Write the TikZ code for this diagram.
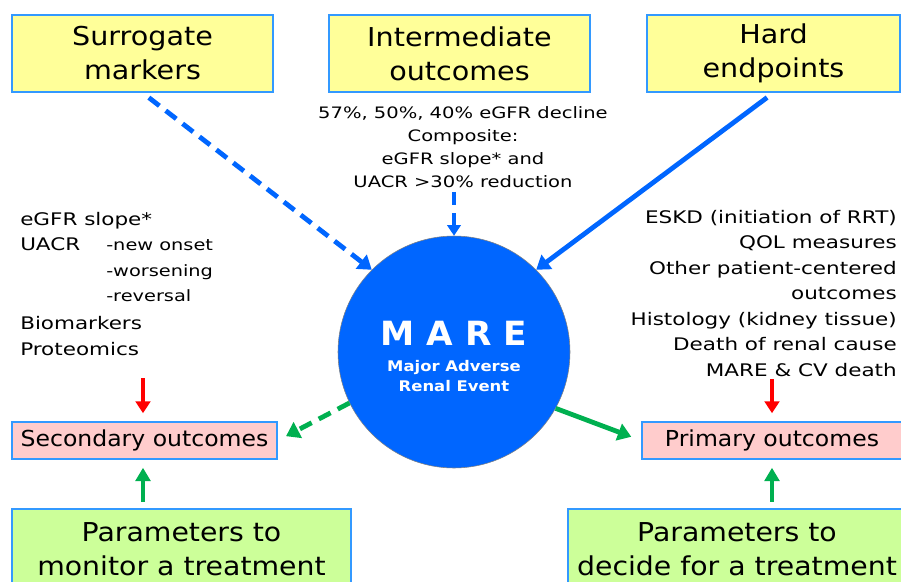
\documentclass[tikz,border=0pt]{standalone}
\usepackage{fontspec}
\setmainfont{DejaVu Sans}
\usepackage{xcolor}
\usetikzlibrary{positioning, arrows.meta, calc}
\definecolor{edgeblue}{HTML}{3399FF}
\definecolor{mareblue}{HTML}{0066FF}
\definecolor{paleyellow}{HTML}{FFFF99}
\definecolor{palepink}{HTML}{FFCCCC}
\definecolor{palegreen}{HTML}{CCFF99}
\definecolor{arrowgreen}{HTML}{00B050}
\newcommand{\wide}[1]{\addfontfeature{FakeStretch=#1}}

\begin{document}
\begin{tikzpicture}[x=0.75pt, y=-0.75pt,
    topbox/.style={rectangle, draw=edgeblue, line width=1.1pt, fill=paleyellow, minimum height=57.75pt, inner sep=0pt, align=center, font=\wide{1.10}\fontsize{19.5}{25.5}\selectfont},
    outbox/.style={rectangle, draw=edgeblue, line width=1.1pt, fill=palepink, minimum height=27.75pt, inner sep=0pt, align=center, font=\wide{1.07}\fontsize{16.5}{20}\selectfont},
    parbox/.style={rectangle, draw=edgeblue, line width=1.1pt, fill=palegreen, minimum height=60pt, inner sep=0pt, align=center, font=\wide{1.09}\fontsize{19.5}{25.5}\selectfont},
    note/.style={inner sep=0pt, font=\wide{1.24}\fontsize{13}{19.1}\selectfont},
    arrow/.style={-{Triangle[length=10pt, width=13pt]}, line width=3.6pt},
    dashedline/.style={dash pattern=on 10pt off 6pt}
]

\useasboundingbox (0,0) rectangle (901,582);
\clip (0,0) rectangle (901,582);

\node[topbox, minimum width=195.75pt] (surr) at (142.5, 53.5) {Surrogate\\markers};
\node[topbox, minimum width=195.75pt] (inter) at (459.5, 53.5) {Intermediate\\outcomes};
\node[topbox, minimum width=189.75pt] (hard) at (773.5, 53.5) {Hard\\endpoints};

\node[note, align=center, font=\wide{1.24}\fontsize{11.8}{17.2}\selectfont] (intertext) at (463, 147) {57\%, 50\%, 40\% eGFR decline\\Composite:\\eGFR slope* and\\UACR >30\% reduction};

\node[circle, draw=gray, thin, fill=mareblue, minimum size=174pt, inner sep=0pt] (mare) at (454, 352) {};
\node[text=white, font=\bfseries\wide{1.03}\fontsize{25}{30}\selectfont] (maretitle) at (454, 333) {M A R E};
\node[text=white, align=center, font=\bfseries\wide{1.12}\fontsize{11}{14.5}\selectfont] (maresub) at (454, 376) {Major Adverse\\Renal Event};

\node[note, anchor=north west, align=left] (lefttext) at (20, 207) {%
\begin{tabular}{@{}p{64.5pt}@{}l@{}}
\multicolumn{2}{@{}l@{}}{eGFR slope*}\\
UACR & \fontsize{11.7}{19}\selectfont -new onset\\
 & \fontsize{11.7}{19}\selectfont -worsening\\
 & \fontsize{11.7}{19}\selectfont -reversal\\[2pt]
\multicolumn{2}{@{}l@{}}{Biomarkers}\\
\multicolumn{2}{@{}l@{}}{Proteomics}
\end{tabular}};

\node[note, anchor=north east, align=right] (righttext) at (897, 210) {ESKD (initiation of RRT)\\QOL measures\\Other patient-centered\\outcomes\\Histology (kidney tissue)\\Death of renal cause\\MARE \& CV death};

\node[outbox, minimum width=198.75pt] (second) at (144.5, 440.5) {Secondary outcomes};
\node[outbox, minimum width=195pt] (primary) at (772, 440.5) {Primary outcomes};

\node[parbox, minimum width=254.25pt] (monitor) at (181.5, 549) {Parameters to\\monitor a treatment};
\node[parbox, minimum width=253.5pt] (decide) at (737, 549) {Parameters to\\decide for a treatment};

\coordinate (redL) at (143, 378);
\coordinate (redR) at (772, 379);

\draw[arrow, dashedline, mareblue, shorten <=6pt] (surr.south) -- (mare.135);
\draw[arrow, mareblue, shorten <=6pt] (hard.south) -- (mare.45);
\draw[arrow, dashedline, mareblue, line width=3pt, -{Triangle[length=8pt, width=10pt]}, shorten <=3pt] (intertext.south -| mare.north) -- (mare.north);

\draw[arrow, dashedline, arrowgreen, shorten >=7pt] (mare.206) -- (second.east);
\draw[arrow, arrowgreen, shorten >=8pt] (mare.331) -- (primary.west);

\draw[arrow, red, line width=3pt, -{Triangle[length=9pt, width=11pt]}, shorten >=6pt] (redL) -- (redL |- second.north);
\draw[arrow, red, line width=3pt, -{Triangle[length=9pt, width=11pt]}, shorten >=6pt] (redR) -- (redR |- primary.north);

\draw[arrow, arrowgreen, line width=3.3pt, -{Triangle[length=10pt, width=11pt]}, shorten <=5pt, shorten >=6pt] (monitor.north -| redL) -- (redL |- second.south);
\draw[arrow, arrowgreen, line width=3.3pt, -{Triangle[length=10pt, width=11pt]}, shorten <=5pt, shorten >=6pt] (decide.north -| primary.south) -- (primary.south);

\end{tikzpicture}
\end{document}
